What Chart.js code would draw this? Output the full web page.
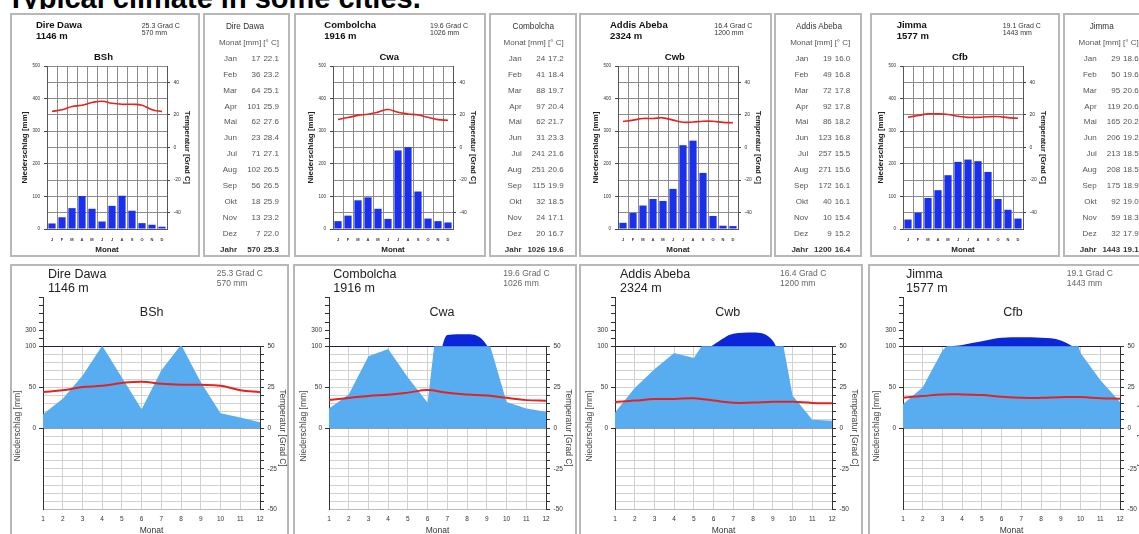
<!DOCTYPE html>
<html><head><meta charset="utf-8">
<title>Typical climate in some cities</title>
<script src="https://cdn.jsdelivr.net/npm/chart.js@4.4.1/dist/chart.umd.min.js"></script>
<style>
html,body{margin:0;padding:0;background:#fff;}
body{width:1139px;height:534px;overflow:hidden;position:relative;font-family:"Liberation Sans",Arial,Helvetica,sans-serif;}
.t{position:absolute;white-space:nowrap;}
.box{position:absolute;box-sizing:border-box;border:2px solid #b8b8b8;background:#fff;}
canvas{position:absolute;}
#titleClip{position:absolute;left:0;top:0;width:700px;height:9px;overflow:hidden;}
#title{position:absolute;left:7px;top:-16px;font-weight:bold;font-size:29px;line-height:29px;color:#000;white-space:nowrap;}
</style></head>
<body>
<div id="titleClip"><div id="title">Typical climate in some cities.</div></div>
<script>
// ---------------- data ----------------
const cities = ['Dire Dawa', 'Combolcha', 'Addis Abeba', 'Jimma'];
const elevations = [1146, 1916, 2324, 1577];
const climateClasses = ['BSh', 'Cwa', 'Cwb', 'Cfb'];
const monthNames = ['Jan','Feb','Mar','Apr','Mai','Jun','Jul','Aug','Sep','Okt','Nov','Dez'];
const monthInitials = ['J','F','M','A','M','J','J','A','S','O','N','D'];
const monthNumbers = [1,2,3,4,5,6,7,8,9,10,11,12];

const precipDireDawa = [17,36,64,101,62,23,71,102,56,18,13,7];
const tempDireDawa = [22.1,23.2,25.1,25.9,27.6,28.4,27.1,26.5,26.5,25.9,23.2,22.0];
const precipCombolcha = [24,41,88,97,62,31,241,251,115,32,24,20];
const tempCombolcha = [17.2,18.4,19.7,20.4,21.7,23.3,21.6,20.6,19.9,18.5,17.1,16.7];
const precipAddisAbeba = [19,49,72,92,86,123,257,271,172,40,10,9];
const tempAddisAbeba = [16.0,16.8,17.8,17.8,18.2,16.8,15.5,15.6,16.1,16.1,15.4,15.2];
const precipJimma = [29,50,95,119,165,206,213,208,175,92,59,32];
const tempJimma = [18.6,19.6,20.6,20.6,20.2,19.2,18.5,18.5,18.9,19.0,18.3,17.9];
const annualPrecip = [570, 1026, 1200, 1443];
const annualTemp = [25.3, 19.6, 16.4, 19.1];

// tick labels
const topPrecipLabels = [0,100,200,300,400,500];
const topTempLabels = [-40,-20,0,20,40];
const botPrecipLabels = [0,50,100,300];
const botTempLabels = [-50,-25,0,25,50];

const precipSeries = [precipDireDawa, precipCombolcha, precipAddisAbeba, precipJimma];
const tempSeries = [tempDireDawa, tempCombolcha, tempAddisAbeba, tempJimma];

// ---------------- layout ----------------
const topPlotLeft = [47, 332.7, 618.3, 903.3];
const botPlotLeft = [43, 329.3, 615, 902.7];
const topChartBoxes = [[10,13,190,244],[294,13,192,244],[579,13,193,244],[870,13,190,244]];
const tableBoxes = [[203,13,87,244],[489,13,88,244],[774,13,88,244],[1063,13,90,244]];
const bottomBoxes = [[10,264,279,290],[293,264,284,290],[579,264,284,290],[868,264,290,290]];
const topCityX = [36, 324.3, 610, 896.7];
const topInfoX = [141.7, 430, 714.3, 1002.7];
const botCityX = [48, 333.3, 620, 906];
const botInfoX = [216.7, 503.3, 780, 1066.7];
const botClassX = [151.7, 442, 727.7, 1013];
const tableMonthRight = [237, 521.7, 808.3, 1096.7];
const tableTitleX = [245, 533.3, 819, 1101.7];

const RED = '#e3231f';
const BAR = '#1a30ec';
const LIGHT = '#58acf0';
const DARK = '#0b26d6';

Chart.defaults.font.family = "'Liberation Sans', Arial, sans-serif";
Chart.defaults.color = '#333';

// ---------------- helpers ----------------
function addBox(b) {
  const d = document.createElement('div');
  d.className = 'box';
  d.style.left = b[0] + 'px'; d.style.top = b[1] + 'px';
  d.style.width = b[2] + 'px'; d.style.height = b[3] + 'px';
  document.body.appendChild(d);
}
function addText(str, x, yc, o) {
  const d = document.createElement('div');
  d.className = 't';
  d.textContent = str;
  const size = o.size;
  d.style.fontSize = size + 'px';
  d.style.fontWeight = o.weight || 'normal';
  d.style.color = o.color || '#333';
  if (o.rotate) {
    const w = 120, h = 12;
    d.style.lineHeight = h + 'px';
    d.style.width = w + 'px';
    d.style.height = h + 'px';
    d.style.textAlign = 'center';
    d.style.left = Math.round(x - w / 2) + 'px';
    d.style.top = Math.round(yc - h / 2) + 'px';
    d.style.transformOrigin = '60px 6px';
    d.style.transform = 'rotate(' + o.rotate + 'deg)';
  } else {
    const lh = size * 1.3;
    d.style.lineHeight = lh + 'px';
    d.style.top = (yc - lh / 2) + 'px';
    if (o.align === 'right') { d.style.left = (x - 200) + 'px'; d.style.width = '200px'; d.style.textAlign = 'right'; }
    else if (o.align === 'center') { d.style.left = (x - 100) + 'px'; d.style.width = '200px'; d.style.textAlign = 'center'; }
    else d.style.left = x + 'px';
  }
  document.body.appendChild(d);
}
function mkCanvas(x, y, w, h) {
  const c = document.createElement('canvas');
  c.width = w; c.height = h;
  c.style.left = Math.round(x) + 'px'; c.style.top = Math.round(y) + 'px';
  c.style.width = w + 'px'; c.style.height = h + 'px';
  document.body.appendChild(c);
  return c;
}

// Walter-Lieth precipitation scale: above 100 mm the scale is compressed 1:10
function wlCompress(v) { return v > 100 ? 100 + (v - 100) / 10 : v; }
function wlExpand(u) { return u > 100 ? 100 + (u - 100) * 10 : u; }
class WalterLiethScale extends Chart.LinearScale {
  getPixelForValue(value) { return super.getPixelForValue(value === null ? null : wlCompress(value)); }
  getValueForPixel(pixel) { return wlExpand(super.getValueForPixel(pixel)); }
}
WalterLiethScale.id = 'walterLieth';
WalterLiethScale.defaults = {};
Chart.register(WalterLiethScale);

// masks the region above the 100 mm line after the light-blue fill is drawn
const wlMaskPlugin = {
  id: 'wlMask',
  afterDatasetDraw(chart, args) {
    const ds = chart.data.datasets[args.index];
    if (!ds.maskAbove) return;
    const a = chart.chartArea;
    const y100 = chart.scales.y.getPixelForValue(100);
    const ctx = chart.ctx;
    const x0 = Math.floor(a.left) + 1;
    const y0 = Math.floor(a.top) - 2;
    ctx.save();
    ctx.fillStyle = '#ffffff';
    ctx.fillRect(x0, y0, Math.ceil(a.right) + 3 - x0, Math.floor(y100) - y0);
    ctx.restore();
  }
};

const botPrecipGrid = [];
for (let v = -100; v <= 100; v += 10) botPrecipGrid.push(v);
for (let v = 200; v <= 700; v += 100) botPrecipGrid.push(v);
const botTempGrid = [];
for (let v = -50; v <= 50; v += 5) botTempGrid.push(v);

// ---------------- top (bar) charts ----------------
function makeTop(k) {
  const cv = mkCanvas(topPlotLeft[k] - 37, 13, 190, 244);
  new Chart(cv, {
    type: 'bar',
    data: {
      labels: monthInitials,
      datasets: [
        { type: 'line', data: tempSeries[k], yAxisID: 'yT', borderColor: RED, borderWidth: 1.6,
          pointRadius: 0, tension: 0.4, fill: false, order: 0 },
        { type: 'bar', data: precipSeries[k], yAxisID: 'y', backgroundColor: BAR,
          barPercentage: 0.72, categoryPercentage: 1, order: 1 }
      ]
    },
    options: {
      responsive: false, animation: false, events: [], devicePixelRatio: 1,
      layout: { padding: { top: 53, left: 0, right: 0, bottom: 0 } },
      plugins: { legend: { display: false }, tooltip: { enabled: false } },
      scales: {
        x: {
          type: 'category', offset: true,
          grid: { offset: true, color: '#8c8c8c', drawTicks: false },
          border: { color: '#555' },
          ticks: { font: { size: 4, weight: 'bold' }, color: '#333', padding: 8, maxRotation: 0, autoSkip: false },
          title: { display: true, text: 'Monat', font: { size: 8, weight: 'bold' }, color: '#222', padding: { top: 0, bottom: 2.2 } },
          afterFit: s => { s.height = 28; }
        },
        y: {
          position: 'left', min: 0, max: 500,
          ticks: { stepSize: 50, autoSkip: false, font: { size: 4.5 }, color: '#333', padding: 4,
                   callback: v => topPrecipLabels.includes(v) ? String(v) : '' },
          grid: { color: '#8c8c8c', tickLength: 3,
                  tickColor: c => topPrecipLabels.includes(c.tick.value) ? '#444' : 'rgba(0,0,0,0)' },
          border: { color: '#555' },
          title: { display: true, text: 'Niederschlag [mm]', font: { size: 8, weight: 'bold' }, color: '#222', padding: { top: 10.2, bottom: 0 } },
          afterFit: s => { s.width = 37; }
        },
        yT: {
          position: 'right', min: -50, max: 50,
          ticks: { stepSize: 10, autoSkip: false, font: { size: 5 }, color: '#333', padding: 3.5,
                   callback: v => topTempLabels.includes(v) ? String(v) : '' },
          grid: { drawOnChartArea: false, tickLength: 3,
                  tickColor: c => topTempLabels.includes(c.tick.value) ? '#444' : 'rgba(0,0,0,0)' },
          border: { color: '#555' },
          title: { display: true, text: 'Temperatur [Grad C]', font: { size: 7.5, weight: 'bold' }, color: '#222', padding: { top: 8.5, bottom: 0 } },
          afterFit: s => { s.width = 33; }
        }
      }
    }
  });
}

// ---------------- bottom (Walter-Lieth) charts ----------------
function makeBottom(k) {
  const cv = mkCanvas(botPlotLeft[k] - 33, 264, 280, 280);
  new Chart(cv, {
    type: 'line',
    data: {
      labels: monthNumbers,
      datasets: [
        { data: precipSeries[k], yAxisID: 'yRaw', fill: 'origin', backgroundColor: LIGHT,
          borderColor: 'rgba(0,0,0,0)', borderWidth: 0, pointRadius: 0, tension: 0, order: 3, maskAbove: true },
        { data: precipSeries[k], yAxisID: 'y', fill: { target: { value: 100 }, above: DARK, below: 'rgba(0,0,0,0)' },
          backgroundColor: DARK, borderColor: 'rgba(0,0,0,0)', borderWidth: 0, pointRadius: 0,
          cubicInterpolationMode: 'monotone', order: 2 },
        { data: tempSeries[k], yAxisID: 'yT', fill: false, borderColor: RED, borderWidth: 2,
          pointRadius: 0, tension: 0.4, order: 1 }
      ]
    },
    plugins: [wlMaskPlugin],
    options: {
      responsive: false, animation: false, events: [], devicePixelRatio: 1,
      layout: { padding: { top: 33.6, left: 0, right: 0, bottom: 0 } },
      plugins: { legend: { display: false }, tooltip: { enabled: false } },
      scales: {
        x: {
          type: 'linear', min: 1, max: 12,
          ticks: { stepSize: 1, autoSkip: false, font: { size: 6.5 }, color: '#333', padding: 6, maxRotation: 0 },
          grid: { color: '#d2d2d2', drawTicks: false },
          border: { color: '#bbb' },
          title: { display: true, text: 'Monat', font: { size: 8.5 }, color: '#333', padding: { top: 0, bottom: 8 } },
          afterFit: s => { s.height = 34.5; }
        },
        y: {
          type: 'walterLieth', position: 'left', min: -100, max: 160,
          afterBuildTicks: s => { s.ticks = botPrecipGrid.map(v => ({ value: v })); },
          ticks: { autoSkip: false, font: { size: 6.5 }, color: '#333', padding: 3,
                   callback: v => botPrecipLabels.includes(v) ? String(v) : '' },
          grid: {
            tickLength: 4,
            color: c => { const v = c.tick.value; if (v === 100) return '#222'; if (v > 100) return 'rgba(0,0,0,0)'; if (v === 0) return '#9a9a9a'; return '#d2d2d2'; },
            tickColor: c => { const v = c.tick.value; return (v >= 100 || v === 0 || v === 50) ? '#333' : 'rgba(0,0,0,0)'; }
          },
          border: { color: '#333' },
          afterFit: s => { s.width = 33; }
        },
        yRaw: { type: 'linear', display: false, min: -100, max: 160 },
        yT: {
          position: 'right', min: -50, max: 80,
          afterBuildTicks: s => { s.ticks = botTempGrid.map(v => ({ value: v })); },
          ticks: { autoSkip: false, font: { size: 6.5 }, color: '#333', padding: 3.5,
                   callback: v => botTempLabels.includes(v) ? String(v) : '' },
          grid: { drawOnChartArea: false, tickLength: 4, tickColor: '#333' },
          border: { color: '#333' },
          afterFit: s => { s.width = 30; }
        }
      }
    }
  });
}

// ---------------- build page ----------------
for (let k = 0; k < 4; k++) {
  addBox(topChartBoxes[k]);
  addBox(tableBoxes[k]);
  addBox(bottomBoxes[k]);
}
for (let k = 0; k < 4; k++) {
  makeTop(k);
  makeBottom(k);

  // top chart header texts
  addText(cities[k], topCityX[k], 25.5, { size: 9.5, weight: 'bold', color: '#111' });
  addText(elevations[k] + ' m', topCityX[k], 36.5, { size: 9.5, weight: 'bold', color: '#111' });
  addText(annualTemp[k].toFixed(1) + ' Grad C', topInfoX[k], 25.2, { size: 7, color: '#333' });
  addText(annualPrecip[k] + ' mm', topInfoX[k], 32.8, { size: 7, color: '#333' });
  addText(climateClasses[k], topPlotLeft[k] + 56.5, 57.3, { size: 9.5, weight: 'bold', color: '#111', align: 'center' });

  // table
  const mr = tableMonthRight[k];
  addText(cities[k], tableTitleX[k], 27, { size: 8.2, color: '#333', align: 'center' });
  addText('Monat [mm] [° C]', mr + 42, 43, { size: 8, color: '#555', align: 'right' });
  for (let i = 0; i < 12; i++) {
    const yc = 59 + i * 15.9;
    addText(monthNames[i], mr, yc, { size: 8, color: '#555', align: 'right' });
    addText(String(precipSeries[k][i]), mr + 23.5, yc, { size: 8, color: '#555', align: 'right' });
    addText(tempSeries[k][i].toFixed(1), mr + 42, yc, { size: 8, color: '#555', align: 'right' });
  }
  addText('Jahr', mr, 249.8, { size: 8, weight: 'bold', color: '#333', align: 'right' });
  addText(String(annualPrecip[k]), mr + 23.5, 249.8, { size: 8, weight: 'bold', color: '#333', align: 'right' });
  addText(annualTemp[k].toFixed(1), mr + 42, 249.8, { size: 8, weight: 'bold', color: '#333', align: 'right' });

  // bottom chart texts
  addText(cities[k], botCityX[k], 274.3, { size: 12.5, color: '#222' });
  addText(elevations[k] + ' m', botCityX[k], 288.3, { size: 12.5, color: '#222' });
  addText(annualTemp[k].toFixed(1) + ' Grad C', botInfoX[k], 273.8, { size: 8.5, color: '#666' });
  addText(annualPrecip[k] + ' mm', botInfoX[k], 283.8, { size: 8.5, color: '#666' });
  addText(climateClasses[k], botClassX[k], 311.7, { size: 12.5, color: '#222', align: 'center' });
  addText('Niederschlag [mm]', Math.round(botPlotLeft[k] - 26.3), 426, { size: 8.5, color: '#444', rotate: -90 });
  addText('Temperatur [Grad C]', Math.round(botPlotLeft[k] + 217 + 22.5), 428, { size: 8.5, color: '#444', rotate: 90 });
}
</script>
</body></html>
